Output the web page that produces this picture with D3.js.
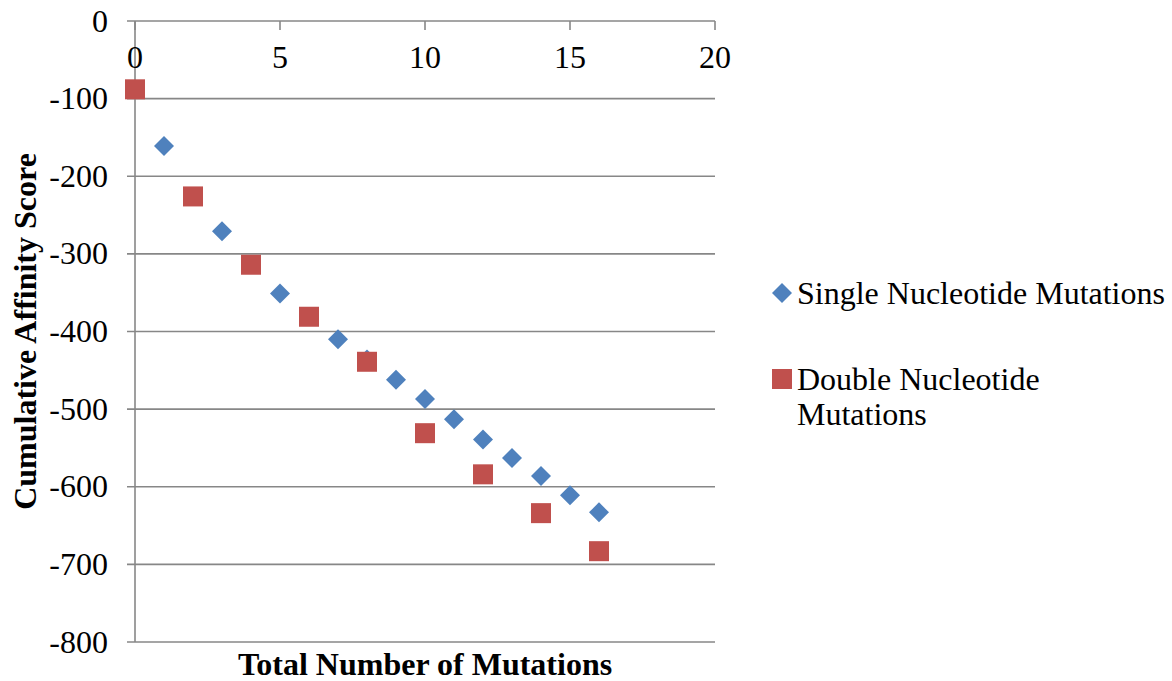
<!DOCTYPE html>
<html>
<head>
<meta charset="utf-8">
<script src="https://cdn.jsdelivr.net/npm/d3@7"></script>
<style>
  body { margin: 0; background: #fff; }
  svg text { font-family: "Liberation Serif", "Times New Roman", serif; fill: #000; }
  .grid line { stroke: #878787; stroke-width: 1.6; }
</style>
</head>
<body>
<div id="chart"></div>
<script>
// data
let singleX = [1, 3, 5, 7, 8, 9, 10, 11, 12, 13, 14, 15, 16];
let singleY = [-161, -271, -351, -410, -436, -462, -487, -513, -539, -563, -586, -611, -633];
let doubleX = [0, 2, 4, 6, 8, 10, 12, 14, 16];
let doubleY = [-88, -226, -314, -381, -439, -531, -584, -634, -683];
let xTicks = [0, 5, 10, 15, 20];
let yTicks = [0, -100, -200, -300, -400, -500, -600, -700, -800];
let seriesNames = ["Single Nucleotide Mutations", ["Double Nucleotide", "Mutations"]];
let seriesColors = ["#4F81BD", "#C0504D"];

let width = 1172, height = 681;
let margin = {top: 21, left: 135, right: 457, bottom: 39};
let fontSize = "32px";

let svg = d3.select("#chart").append("svg")
    .attr("width", width)
    .attr("height", height);

let x = d3.scaleLinear().domain([0, 20]).range([margin.left, width - margin.right]);
let y = d3.scaleLinear().domain([-800, 0]).range([height - margin.bottom, margin.top]);

//horizontal gridlines incl. the top axis line
let grid = svg.append("g").attr("class", "grid");
grid.selectAll("line")
    .data(yTicks)
    .enter()
    .append("line")
    .attr("x1", x(0) - 8)
    .attr("x2", x(20))
    .attr("y1", function(d) { return y(d); })
    .attr("y2", function(d) { return y(d); });

//vertical axis line
grid.append("line")
    .attr("x1", x(0)).attr("x2", x(0))
    .attr("y1", y(0)).attr("y2", y(-800));

//x ticks hanging down from the top axis
grid.selectAll(".xt")
    .data(xTicks)
    .enter()
    .append("line")
    .attr("class", "xt")
    .attr("x1", function(d) { return x(d); })
    .attr("x2", function(d) { return x(d); })
    .attr("y1", y(0))
    .attr("y2", y(0) + 9);

//y tick labels
svg.selectAll(".ylab")
    .data(yTicks)
    .enter()
    .append("text")
    .attr("class", "ylab")
    .attr("x", x(0) - 27)
    .attr("y", function(d) { return y(d); })
    .attr("dy", "0.33em")
    .attr("text-anchor", "end")
    .style("font-size", fontSize)
    .text(function(d) { return d; });

//x tick labels
svg.selectAll(".xlab")
    .data(xTicks)
    .enter()
    .append("text")
    .attr("class", "xlab")
    .attr("x", function(d) { return x(d); })
    .attr("y", y(0) + 47)
    .attr("text-anchor", "middle")
    .style("font-size", fontSize)
    .text(function(d) { return d; });

//axis titles
svg.append("text")
    .attr("x", (x(0) + x(20)) / 2)
    .attr("y", 675)
    .attr("text-anchor", "middle")
    .style("font-size", fontSize)
    .style("font-weight", "bold")
    .text("Total Number of Mutations");

svg.append("text")
    .attr("transform", "translate(36," + ((y(0) + y(-800)) / 2) + ") rotate(-90)")
    .attr("text-anchor", "middle")
    .style("font-size", fontSize)
    .style("font-weight", "bold")
    .text("Cumulative Affinity Score");

let diamond = d3.symbol().type(d3.symbolDiamond2).size(255);

let singleData = singleX.map(function(d, i) { return {x: d, y: singleY[i]}; });
let doubleData = doubleX.map(function(d, i) { return {x: d, y: doubleY[i]}; });

//single series (diamonds)
svg.selectAll(".single")
    .data(singleData)
    .enter()
    .append("path")
    .attr("class", "single")
    .attr("d", diamond)
    .attr("transform", function(d) { return "translate(" + x(d.x) + "," + y(d.y) + ")"; })
    .attr("fill", seriesColors[0]);

//double series (squares), drawn on top
svg.selectAll(".double")
    .data(doubleData)
    .enter()
    .append("rect")
    .attr("class", "double")
    .attr("x", function(d) { return x(d.x) - 10; })
    .attr("y", function(d) { return y(d.y) - 10; })
    .attr("width", 20)
    .attr("height", 20)
    .attr("fill", seriesColors[1]);

//legend
let legend = svg.append("g");
legend.append("path")
    .attr("d", diamond)
    .attr("transform", "translate(782,293)")
    .attr("fill", seriesColors[0]);
legend.append("text")
    .attr("x", 797).attr("y", 293).attr("dy", "0.33em")
    .style("font-size", fontSize)
    .text(seriesNames[0]);

legend.append("rect")
    .attr("x", 772).attr("y", 369)
    .attr("width", 20).attr("height", 20)
    .attr("fill", seriesColors[1]);
legend.append("text")
    .selectAll("tspan")
    .data(seriesNames[1])
    .enter()
    .append("tspan")
    .attr("x", 797)
    .attr("y", function(d, i) { return 379 + i * 35; })
    .attr("dy", "0.33em")
    .style("font-size", fontSize)
    .text(function(d) { return d; });
</script>
</body>
</html>
